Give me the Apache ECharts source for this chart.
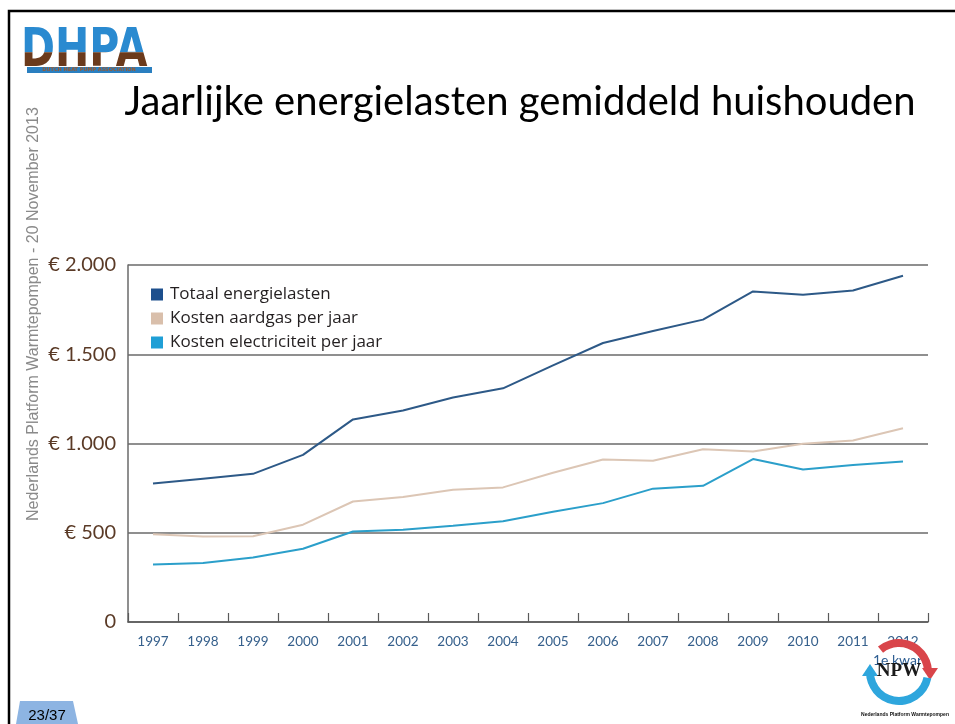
<!DOCTYPE html>
<html>
<head>
<meta charset="utf-8">
<script src="https://cdn.jsdelivr.net/npm/echarts@6/dist/echarts.min.js"></script>
<style>
html,body{margin:0;padding:0;background:#fff;}
#chart{width:955px;height:724px;}
</style>
</head>
<body>
<div id="chart"></div>
<script>
var years = ['1997','1998','1999','2000','2001','2002','2003','2004','2005','2006','2007','2008','2009','2010','2011','2012'];
var totaal = [776, 803, 830, 936, 1135, 1185, 1258, 1309, 1438, 1563, 1630, 1694, 1852, 1834, 1857, 1940];
var aardgas = [491, 479, 480, 545, 675, 700, 741, 754, 836, 910, 903, 968, 955, 999, 1017, 1085];
var elektriciteit = [322, 331, 361, 410, 507, 517, 539, 565, 618, 666, 747, 763, 913, 854, 879, 899];
var seriesNames = ['Totaal energielasten', 'Kosten aardgas per jaar', 'Kosten electriciteit per jaar'];
var yTicks = [0, 500, 1000, 1500, 2000];
var yTickLabels = ['0', '€ 500', '€ 1.000', '€ 1.500', '€ 2.000'];

var lineColors = ['#2d5987', '#dcc6b5', '#2b9fca'];
var legendColors = ['#1d4f8d', '#d9bfab', '#1f9fd6'];

var chart = echarts.init(document.getElementById('chart'), null, {renderer: 'canvas'});

var option = {
  animation: false,
  backgroundColor: '#ffffff',
  title: {
    text: 'Jaarlijke energielasten gemiddeld huishouden',
    left: 515,
    top: 77,
    textAlign: 'center',
    textStyle: {fontFamily: 'Lato', fontWeight: 'normal', fontSize: 40, color: '#000000'}
  },
  legend: {
    orient: 'vertical',
    left: 146,
    top: 281,
    itemWidth: 12,
    itemHeight: 12,
    itemGap: 7,
    icon: 'rect',
    textStyle: {fontFamily: 'Open Sans', fontSize: 17, lineHeight: 17, color: '#231f20', padding: [0, 0, 0, 2]},
    data: seriesNames.map(function (n, i) { return {name: n, itemStyle: {color: legendColors[i]}}; })
  },
  grid: {left: 128, right: 27, top: 265, bottom: 102, containLabel: false},
  xAxis: {
    type: 'category',
    data: years,
    boundaryGap: true,
    axisLine: {show: true, lineStyle: {color: '#5a5a5a', width: 1.5}},
    axisTick: {show: true, inside: true, length: 9, interval: 0, lineStyle: {color: '#5a5a5a', width: 1.2}},
    axisLabel: {interval: 0, margin: 13, color: '#36608c', fontFamily: 'Lato', fontSize: 13.5}
  },
  yAxis: {
    type: 'value',
    min: 0,
    max: 2000,
    interval: 500,
    axisLine: {show: true, lineStyle: {color: '#6a6a6a', width: 1.5}},
    axisTick: {show: false},
    splitLine: {show: true, lineStyle: {color: '#6a6a6a', width: 1.5}},
    axisLabel: {
      margin: 12,
      color: '#5a3a26',
      fontFamily: 'Lato',
      fontSize: 20,
      formatter: function (v) { var i = yTicks.indexOf(v); return i >= 0 ? yTickLabels[i] : ''; }
    }
  },
  series: [
    {name: seriesNames[0], type: 'line', data: totaal, symbol: 'none', lineStyle: {width: 2, color: lineColors[0]}, itemStyle: {color: lineColors[0]}},
    {name: seriesNames[1], type: 'line', data: aardgas, symbol: 'none', lineStyle: {width: 2, color: lineColors[1]}, itemStyle: {color: lineColors[1]}},
    {name: seriesNames[2], type: 'line', data: elektriciteit, symbol: 'none', lineStyle: {width: 2, color: lineColors[2]}, itemStyle: {color: lineColors[2]}}
  ],
  graphic: [
    {type: 'rect', z: 100, shape: {x: 9, y: 11, width: 980, height: 740}, style: {fill: null, stroke: '#000000', lineWidth: 2.5}},
    {type: 'text', z: 100, x: 42, y: 521, rotation: Math.PI / 2,
      style: {text: 'Nederlands Platform Warmtepompen - 20 November 2013', font: '16px "Liberation Sans"', fill: '#8a8a8a', textAlign: 'left', textVerticalAlign: 'bottom'}},
    {type: 'rect', z: 100, shape: {x: 27, y: 67, width: 125, height: 6}, style: {fill: '#2a7fc0'}},
    {type: 'text', z: 101, x: 89, y: 70,
      style: {text: 'DUTCH HEAT PUMP ASSOCIATION', font: 'bold 5px "DejaVu Sans"', fill: '#9a5a30', textAlign: 'center', textVerticalAlign: 'middle'}},
    {type: 'polygon', z: 100, shape: {points: [[20, 701], [73, 701], [78, 724], [16, 724]]}, style: {fill: '#8db4e2'}},
    {type: 'text', z: 101, x: 47, y: 716,
      style: {text: '23/37', font: '15px "Liberation Sans"', fill: '#000000', textAlign: 'center', textVerticalAlign: 'middle'}},
    {type: 'text', z: 102, x: 900, y: 660,
      style: {text: '1e kwart', font: '14px Lato', fill: '#2f5f93', textAlign: 'center', textVerticalAlign: 'middle'}},
    {type: 'sector', z: 103, shape: {cx: 899, cy: 672, r0: 25, r: 33, startAngle: -Math.PI * 0.72, endAngle: -0.05, clockwise: true}, style: {fill: '#d9454a'}},
    {type: 'polygon', z: 103, shape: {points: [[922, 668], [938, 668], [930, 680]]}, style: {fill: '#d9454a'}},
    {type: 'sector', z: 103, shape: {cx: 899, cy: 672, r0: 25, r: 33, startAngle: 0.2, endAngle: Math.PI * 1.0, clockwise: true}, style: {fill: '#2ea6dd'}},
    {type: 'polygon', z: 103, shape: {points: [[862, 676], [878, 676], [870, 664]]}, style: {fill: '#2ea6dd'}},
    {type: 'text', z: 104, x: 899, y: 671,
      style: {text: 'NPW', font: 'bold 19px "Liberation Serif"', fill: '#1a1a1a', textAlign: 'center', textVerticalAlign: 'middle'}},
    {type: 'text', z: 104, x: 905, y: 715,
      style: {text: 'Nederlands Platform Warmtepompen', font: 'bold 5px "Liberation Sans"', fill: '#111111', textAlign: 'center', textVerticalAlign: 'middle'}}
  ]
};
chart.setOption(option);

// DHPA logo: two-coloured text (blue top, brown bottom) via clipped groups
(function () {
  var zr = chart.getZr();
  function part(color, clipY, clipH) {
    var g = new echarts.graphic.Group({x: 21, y: 25, scaleY: 1.3});
    var t = new echarts.graphic.Text({
      z: 200,
      style: {text: 'DHPA', font: 'bold 41px "DejaVu Sans"', fill: color, verticalAlign: 'top', align: 'left'}
    });
    g.add(t);
    g.setClipPath(new echarts.graphic.Rect({shape: {x: -5, y: clipY, width: 150, height: clipH}}));
    zr.add(g);
  }
  part('#2a8ad0', -5, 26);
  part('#6b3a1c', 21, 30);
})();
</script>
</body>
</html>
